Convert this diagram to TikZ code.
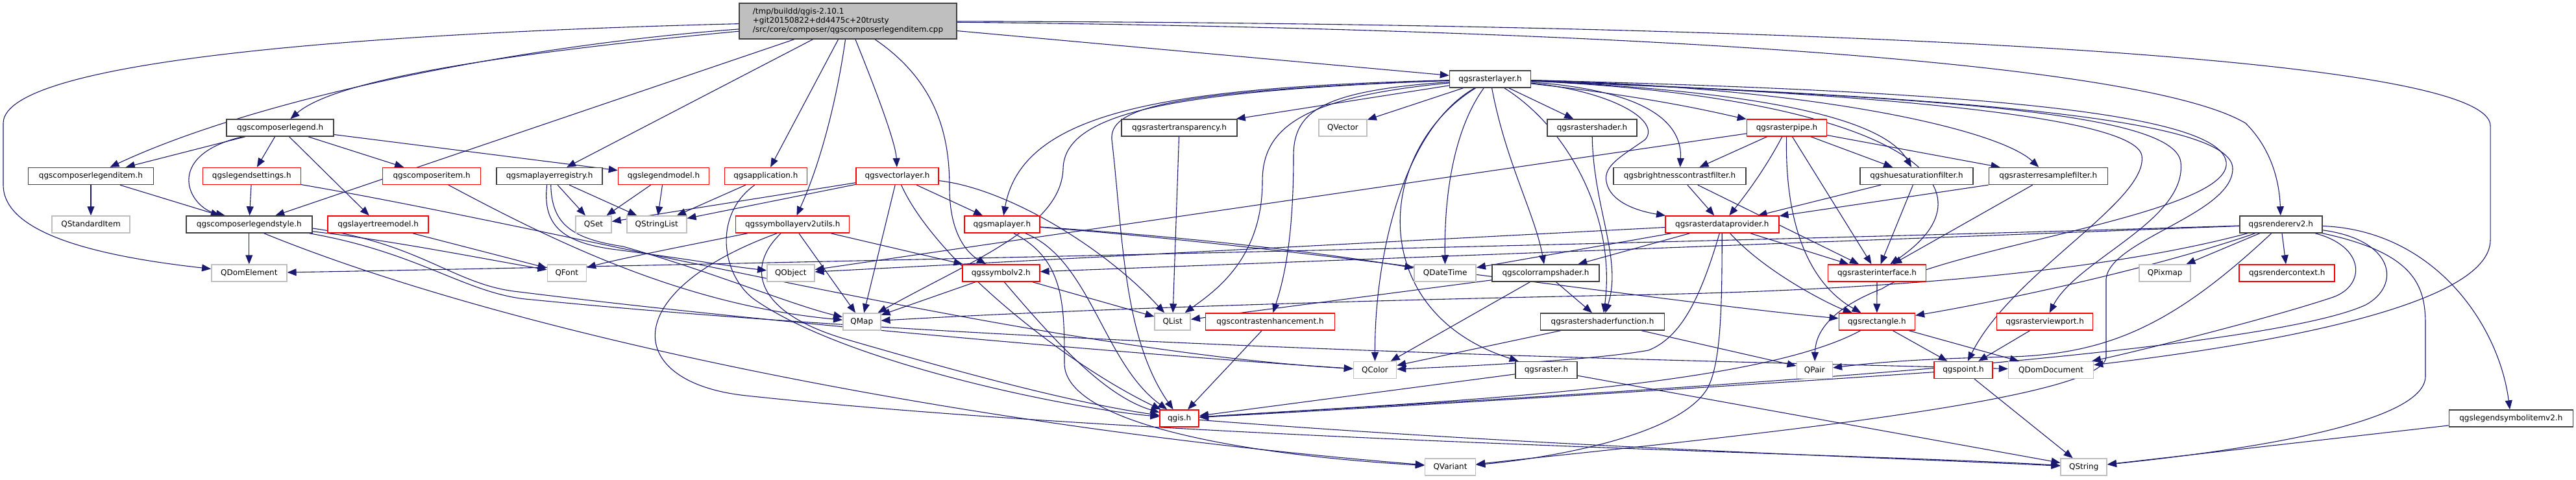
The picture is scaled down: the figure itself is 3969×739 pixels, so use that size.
\documentclass[tikz,border=0pt]{standalone}
\usepackage{fontspec}
\setmainfont{DejaVu Sans}
\usetikzlibrary{arrows.meta,calc,backgrounds}
\definecolor{edgec}{HTML}{191970}
\definecolor{grayb}{HTML}{BFBFBF}
\definecolor{topf}{HTML}{BFBFBF}
\definecolor{redb}{HTML}{FF0000}
\definecolor{blkb}{HTML}{404040}
\begin{document}
\begin{tikzpicture}[x=1pt,y=-1pt,
  nd/.style={draw, fill=white, line width=1.5pt, minimum height=26pt, inner sep=0pt, font=\fontsize{12}{14}\selectfont},
  gb/.style={nd, draw=grayb},
  rb/.style={nd, draw=redb},
  kb/.style={nd, draw=blkb},
  e/.style={draw=edgec, line width=1.1pt, -{Triangle[length=14pt,width=11pt]}}]
\useasboundingbox (0,0) rectangle (3969,739);
% row 1
\node[kb, fill=topf, minimum width=335pt, minimum height=55pt, align=left] (top) at (1306.5,32.5) {/tmp/buildd/qgis-2.10.1\\+git20150822+dd4475c+20trusty\\/src/core/composer/qgscomposerlegenditem.cpp};
% row 2
\node[kb, minimum width=125pt] (rl) at (2296,122) {qgsrasterlayer.h};
% row 3
\node[kb, minimum width=165pt] (cl) at (431.7,197) {qgscomposerlegend.h};
\node[kb, minimum width=178pt] (rt) at (1817,197) {qgsrastertransparency.h};
\node[gb, minimum width=74pt] (qvector) at (2069,197) {QVector};
\node[kb, minimum width=138pt] (rsh) at (2453,197) {qgsrastershader.h};
\node[rb, minimum width=123pt] (rp) at (2753,197) {qgsrasterpipe.h};
% row 4
\node[kb, minimum width=193pt] (cli) at (140,271.5) {qgscomposerlegenditem.h};
\node[rb, minimum width=151pt] (ls) at (387.8,271.5) {qgslegendsettings.h};
\node[rb, minimum width=151pt] (ci) at (665.2,271.5) {qgscomposeritem.h};
\node[kb, minimum width=163pt] (mlr) at (846.7,271.5) {qgsmaplayerregistry.h};
\node[rb, minimum width=140pt] (lm) at (1022.5,271.5) {qgslegendmodel.h};
\node[rb, minimum width=127pt] (app) at (1179.8,271.5) {qgsapplication.h};
\node[rb, minimum width=127pt] (vl) at (1382.5,271.5) {qgsvectorlayer.h};
\node[kb, minimum width=204pt] (bcf) at (2588,271.5) {qgsbrightnesscontrastfilter.h};
\node[kb, minimum width=174pt] (hsf) at (2953,271.5) {qgshuesaturationfilter.h};
\node[kb, minimum width=183pt] (rsf) at (3155.8,271.5) {qgsrasterresamplefilter.h};
% row 5
\node[gb, minimum width=120pt] (qsi) at (140,346) {QStandardItem};
\node[kb, minimum width=194pt] (cls) at (383.8,346) {qgscomposerlegendstyle.h};
\node[rb, minimum width=155pt] (ltm) at (582.7,346) {qgslayertreemodel.h};
\node[gb, minimum width=55pt] (qset) at (914.5,346) {QSet};
\node[gb, minimum width=92pt] (qsl) at (1011.8,346) {QStringList};
\node[rb, minimum width=175pt] (slu) at (1221.2,346) {qgssymbollayerv2utils.h};
\node[rb, minimum width=116pt] (ml) at (1543.8,346) {qgsmaplayer.h};
\node[rb, minimum width=175pt] (rdp) at (2653.3,346) {qgsrasterdataprovider.h};
\node[kb, minimum width=127pt] (rv2) at (3514.3,346) {qgsrendererv2.h};
% row 6
\node[gb, minimum width=116pt] (qde) at (383.8,421) {QDomElement};
\node[gb, minimum width=60pt] (qfont) at (873.3,421) {QFont};
\node[gb, minimum width=73pt] (qobj) at (1218.3,421) {QObject};
\node[rb, minimum width=119pt] (sv2) at (1542.3,421) {qgssymbolv2.h};
\node[gb, minimum width=95pt] (qdt) at (2226.7,421) {QDateTime};
\node[kb, minimum width=165pt] (crs) at (2381.5,421) {qgscolorrampshader.h};
\node[rb, minimum width=151pt] (ri) at (2892,421) {qgsrasterinterface.h};
\node[gb, minimum width=79pt] (qpix) at (3335.7,421) {QPixmap};
\node[rb, minimum width=147pt] (rc) at (3523.7,421) {qgsrendercontext.h};
% row 7
\node[gb, minimum width=58pt] (qmap) at (1327.8,496) {QMap};
\node[gb, minimum width=55pt] (qlist) at (1806.7,496) {QList};
\node[rb, minimum width=199pt] (ce) at (1957,496) {qgscontrastenhancement.h};
\node[kb, minimum width=191pt] (rsfn) at (2469,496) {qgsrastershaderfunction.h};
\node[rb, minimum width=117pt] (rect) at (2891.8,496) {qgsrectangle.h};
\node[rb, minimum width=148pt] (rvp) at (3150.7,496) {qgsrasterviewport.h};
% row 8
\node[gb, minimum width=66pt] (qcolor) at (2118.5,570.5) {QColor};
\node[kb, minimum width=95pt] (raster) at (2382.5,570.5) {qgsraster.h};
\node[gb, minimum width=55pt] (qpair) at (2795.8,570.5) {QPair};
\node[rb, minimum width=90pt] (pt) at (3025,570.5) {qgspoint.h};
\node[gb, minimum width=131pt] (qdd) at (3160,570.5) {QDomDocument};
% row 9
\node[rb, minimum width=60pt] (qgis) at (1817.2,645) {qgis.h};
\node[kb, minimum width=191pt] (lsi) at (3868.8,645) {qgslegendsymbolitemv2.h};
% row 10
\node[gb, minimum width=78pt] (qvar) at (2234.5,720) {QVariant};
\node[gb, minimum width=71pt] (qstr) at (3210.7,720) {QString};

\begin{pgfonlayer}{background}
% ---- edges from top
\draw[e] (top) .. controls (600,50) and (5,90) .. (5,190) -- (5,285) .. controls (5,360) and (150,395) .. (qde);
\draw[e] (top) .. controls (800,70) and (400,150) .. (cli);
\draw[e] (top) .. controls (800,80) and (520,120) .. (cl);
\draw[e] (top) -- (cls);
\draw[e] (top) -- (mlr);
\draw[e] (top) -- (app);
\draw[e] (top) .. controls (1290,150) and (1265,250) .. (slu);
\draw[e] (top) .. controls (1350,140) and (1380,220) .. (vl);
\draw[e] (top) .. controls (1450,130) and (1463,220) .. (1463,290) .. controls (1463,360) and (1490,390) .. (sv2);
\draw[e] (top) -- (rl);
\draw[e] (top) .. controls (2500,45) and (3300,95) .. (3460,190) .. controls (3500,230) and (3512,280) .. (rv2);
\draw[e] (top) .. controls (2500,35) and (3837,70) .. (3837,194) -- (3837,370) .. controls (3837,470) and (3500,530) .. (qdd);
% ---- composer legend
\draw[e] (cl) -- (cli);
\draw[e] (cl) -- (ls);
\draw[e] ($(cl.south)+(-58,0)$) .. controls (250,240) and (290,320) .. ($(cls.north)+(-37,0)$);
\draw[e] (cl) -- (ltm);
\draw[e] (cl) -- (ci);
\draw[e] (cl) -- (lm);
\draw[e] (cli) -- (qsi);
\draw[e] (cli) -- (cls);
\draw[e] (ls) -- (cls);
\draw[e] (ls) .. controls (900,360) and (1600,540) .. (qcolor);
\draw[e] (ci) .. controls (850,370) and (1050,470) .. (qmap);
\draw[e] (cls) -- (qde);
\draw[e] (cls) .. controls (600,370) and (750,400) .. (qfont);
\draw[e] ($(cls.east)+(0,6)$) .. controls (650,375) and (700,440) .. (800,450) .. controls (1200,500) and (1800,550) .. (qcolor);
\draw[e] ($(cls.south east)+(-5,0)$) .. controls (650,390) and (720,455) .. (820,462) .. controls (1600,540) and (2800,560) .. (qdd);
\draw[e] ($(cls.south)+(23,0)$) .. controls (800,520) and (1500,660) .. (qvar);
\draw[e] (ltm) -- (qfont);
% ---- map layer registry etc
\draw[e] (mlr) -- (qset);
\draw[e] (mlr) -- (qsl);
\draw[e] ($(mlr.south)+(-4,0)$) .. controls (835,350) and (870,375) .. (950,385) .. controls (1050,398) and (1120,410) .. (qobj);
\draw[e] ($(mlr.south)+(2,0)$) .. controls (850,345) and (880,368) .. (960,380) .. controls (1100,420) and (1220,470) .. (qmap);
\draw[e] (lm) -- (qsl);
\draw[e] (lm) -- (qset);
\draw[e] (app) -- (qsl);
\draw[e] ($(app.south)+(-17,0)$) .. controls (1100,330) and (1110,420) .. (1160,460) .. controls (1300,560) and (1650,630) .. (qgis);
\draw[e] (vl) -- (qset);
\draw[e] (vl) -- (qsl);
\draw[e] (vl) -- (qmap);
\draw[e] (vl) .. controls (1440,400) and (1640,560) .. (qgis);
\draw[e] (vl) -- (ml);
\draw[e] (vl) .. controls (1550,290) and (1700,380) .. (qlist);
\draw[e] (slu) .. controls (1050,380) and (950,400) .. (qfont);
\draw[e] (slu) -- (qmap);
\draw[e] (slu) -- (sv2);
\draw[e] ($(slu.south)+(-18,0)$) .. controls (1150,410) and (1160,480) .. (1300,522) .. controls (1500,580) and (1650,620) .. (qgis);
\draw[e] ($(slu.south)+(-24,0)$) .. controls (950,450) and (960,590) .. (1150,610) .. controls (1800,680) and (2900,700) .. (qstr);
\draw[e] (ml) .. controls (1900,370) and (2100,400) .. (qdt);
\draw[e] (ml) .. controls (2000,380) and (2600,470) .. (rect);
\draw[e] ($(ml.south)+(36,0)$) .. controls (1680,400) and (1700,560) .. (qgis);
\draw[e] ($(ml.south)+(18,0)$) .. controls (1640,400) and (1640,470) .. (1640,560) .. controls (1640,650) and (1900,700) .. (qvar);
\draw[e] (sv2) -- (qlist);
\draw[e] ($(sv2.south)+(5,0)$) .. controls (1620,520) and (1700,610) .. (qgis);
\draw[e] (sv2) -- (qmap);
\draw[e] (rt) -- (qlist);
\draw[e] (ce) -- (qgis);
% ---- raster layer
\draw[e] (rl) -- (qvector);
\draw[e] (rl) -- (rt);
\draw[e] (rl) -- (rsh);
\draw[e] (rl) .. controls (2550,150) and (2650,175) .. (rp);
\draw[e] (rl) .. controls (2540,140) and (2592,190) .. (bcf);
\draw[e] (rl) .. controls (2700,140) and (2900,180) .. (hsf);
\draw[e] (rl) .. controls (2800,135) and (3080,200) .. (rsf);
\draw[e] (rl) .. controls (2480,140) and (2560,185) .. (2535,215) .. controls (2500,240) and (2470,255) .. (2475,280) .. controls (2480,310) and (2520,325) .. (rdp);
\draw[e] (rl) .. controls (2320,250) and (2365,330) .. (crs);
\draw[e] (rl) .. controls (2420,200) and (2490,340) .. (rsfn);
\draw[e] (rl) .. controls (2240,200) and (2225,300) .. (qdt);
\draw[e] (rl) .. controls (2160,200) and (2118,400) .. (qcolor);
\draw[e] (rl) .. controls (2120,230) and (2100,480) .. (raster);
\draw[e] (rl) .. controls (1800,135) and (1575,170) .. (ml);
\draw[e] (rl) .. controls (2040,140) and (1993,170) .. (1993,240) .. controls (1993,380) and (1975,440) .. (ce);
\draw[e] (rl) .. controls (2000,150) and (1945,200) .. (1945,280) .. controls (1945,400) and (1870,450) .. (qlist);
\draw[e] (rl) .. controls (1780,140) and (1710,170) .. (1713,215) .. controls (1730,360) and (1730,520) .. (qgis);
\draw[e] (rl) .. controls (1800,140) and (1640,175) .. (1638,260) .. controls (1635,350) and (1500,400) .. (qmap);
\draw[e] (rl) .. controls (2900,150) and (3100,280) .. (ri);
\draw[e] (rl) .. controls (2900,145) and (3290,180) .. (3300,240) .. controls (3310,310) and (3100,420) .. (pt);
\draw[e] (rl) .. controls (2950,150) and (3350,170) .. (3360,250) .. controls (3370,340) and (3200,400) .. (rvp);
\draw[e] (rl) .. controls (3000,140) and (3420,170) .. (3430,250) .. controls (3440,330) and (3000,380) .. (2900,445) .. controls (2810,480) and (2797,520) .. (qpair);
\draw[e] (rl) .. controls (3000,150) and (3440,180) .. (3440,260) .. controls (3440,330) and (3250,370) .. (3245,430) -- (3245,550) .. controls (3245,620) and (2600,680) .. (qvar);
% ---- raster pipe and filters
\draw[e] (rp) -- (bcf);
\draw[e] (rp) .. controls (2720,260) and (2690,300) .. (rdp);
\draw[e] (rp) .. controls (2750,320) and (2775,430) .. (rect);
\draw[e] (rp) -- (ri);
\draw[e] (rp) -- (hsf);
\draw[e] (rp) -- (rsf);
\draw[e] (rp) -- (qobj);
\draw[e] (bcf) -- (rdp);
\draw[e] (bcf) -- (ri);
\draw[e] (hsf) -- (rdp);
\draw[e] (hsf) -- (ri);
\draw[e] (rsf) -- (rdp);
\draw[e] (rsf) -- (ri);
\draw[e] (rsh) .. controls (2455,320) and (2500,400) .. (rsfn);
\draw[e] (rdp) -- (ri);
\draw[e] (rdp) .. controls (2720,420) and (2820,470) .. (rect);
\draw[e] (rdp) .. controls (2653,460) and (2653,560) .. (2630,600) .. controls (2580,680) and (2350,710) .. (qvar);
\draw[e] (rdp) .. controls (2620,460) and (2590,520) .. (2540,540) .. controls (2450,556) and (2250,565) .. (qcolor);
\draw[e] (rdp) -- (crs);
\draw[e] (rdp) -- (qdt);
\draw[e] (rdp) -- (qobj);
\draw[e] (crs) -- (rsfn);
\draw[e] (crs) -- (qcolor);
\draw[e] (crs) -- (qlist);
\draw[e] (ri) -- (rect);
\draw[e] (rect) -- (pt);
\draw[e] (rect) -- (qdd);
\draw[e] (rect) .. controls (2700,600) and (2200,620) .. (qgis);
\draw[e] (rvp) -- (pt);
\draw[e] (pt) -- (qstr);
\draw[e] (pt) .. controls (2600,600) and (2100,630) .. (qgis);
\draw[e] (raster) -- (qstr);
\draw[e] (raster) -- (qgis);
\draw[e] (rsfn) -- (qcolor);
\draw[e] (rsfn) -- (qpair);
\draw[e] (lsi) -- (qstr);
\draw[e] (qgis) .. controls (2400,690) and (2900,705) .. (qstr);
% ---- renderer v2
\draw[e] (rv2) -- (rc);
\draw[e] (rv2) -- (qpix);
\draw[e] (rv2) .. controls (3750,355) and (3850,500) .. (lsi);
\draw[e] (rv2) .. controls (3720,390) and (3737,440) .. (3737,500) -- (3737,580) .. controls (3737,660) and (3400,700) .. (qstr);
\draw[e] (rv2) .. controls (3645,380) and (3645,440) .. (3595,458) .. controls (3500,490) and (3300,540) .. (qdd);
\draw[e] (rv2) .. controls (3690,370) and (3700,440) .. (3645,470) .. controls (3450,560) and (2200,620) .. (qgis);
\draw[e] (rv2) .. controls (2600,375) and (1000,410) .. (qde);
\draw[e] (rv2) -- (sv2);
\draw[e] (rv2) .. controls (3200,430) and (2800,450) .. (2500,455) .. controls (2000,465) and (1600,480) .. (qmap);
\draw[e] (rv2) .. controls (3300,420) and (3050,470) .. (rect);
\draw[e] (rv2) .. controls (3350,500) and (3250,545) .. (3100,550) .. controls (2950,553) and (2880,560) .. (qpair);
\end{pgfonlayer}
\end{tikzpicture}
\end{document}
